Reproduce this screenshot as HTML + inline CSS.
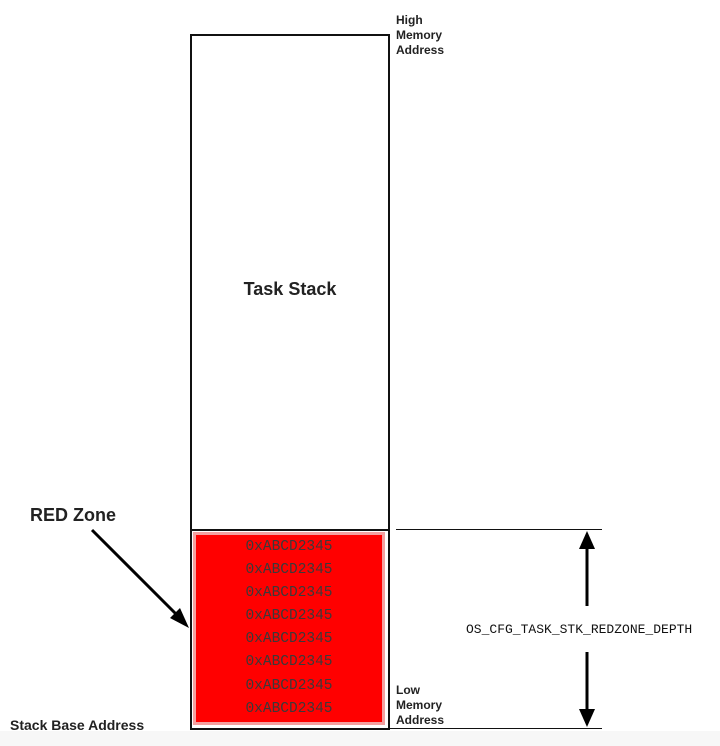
<!DOCTYPE html>
<html><head><style>
body{margin:0;width:720px;height:746px;background:#fff;position:relative;overflow:hidden;font-family:"Liberation Sans",sans-serif;}
.a{position:absolute;}
.lbl{font-size:12px;font-weight:bold;color:#222;line-height:15px;}
.hx{position:absolute;left:0;width:100%;text-align:center;font-family:"Liberation Mono",monospace;font-size:14.5px;color:#3a3a3a;}
</style></head><body>
<div class="a" style="left:0;top:731px;width:720px;height:15px;background:#f7f7f7"></div>
<div class="a" style="left:190px;top:34px;width:196px;height:692px;border:2px solid #111;background:#fff"></div>
<div class="a" style="left:190px;top:529px;width:198px;height:2px;background:#111"></div>
<div class="a" style="left:193px;top:532px;width:192px;height:193px;background:#ff0000;box-shadow:inset 0 0 0 3px #f4a0a0;">
<div class="hx" style="top:7px">0xABCD2345</div>
<div class="hx" style="top:30px">0xABCD2345</div>
<div class="hx" style="top:53px">0xABCD2345</div>
<div class="hx" style="top:76px">0xABCD2345</div>
<div class="hx" style="top:99px">0xABCD2345</div>
<div class="hx" style="top:122px">0xABCD2345</div>
<div class="hx" style="top:146px">0xABCD2345</div>
<div class="hx" style="top:169px">0xABCD2345</div>
</div>
<div class="a" style="left:190px;top:279px;width:200px;text-align:center;font-size:18px;font-weight:bold;color:#222">Task Stack</div>
<div class="a lbl" style="left:396px;top:13px">High<br>Memory<br>Address</div>
<div class="a lbl" style="left:396px;top:683px">Low<br>Memory<br>Address</div>
<div class="a" style="left:30px;top:505px;font-size:18px;font-weight:bold;color:#222">RED Zone</div>
<div class="a" style="left:10px;top:717px;font-size:14px;font-weight:bold;color:#222">Stack Base Address</div>
<div class="a" style="left:466px;top:622px;font-family:'Liberation Mono',monospace;font-size:13px;color:#111">OS_CFG_TASK_STK_REDZONE_DEPTH</div>
<svg class="a" style="left:0;top:0" width="720" height="746">
<line x1="396" y1="529.5" x2="602" y2="529.5" stroke="#111" stroke-width="1"/>
<line x1="388" y1="728.5" x2="602" y2="728.5" stroke="#111" stroke-width="1"/>
<line x1="587" y1="545" x2="587" y2="606" stroke="#000" stroke-width="3"/>
<line x1="587" y1="652" x2="587" y2="713" stroke="#000" stroke-width="3"/>
<polygon points="587,531 579,549 595,549" fill="#000"/>
<polygon points="587,727 579,709 595,709" fill="#000"/>
<line x1="92" y1="530" x2="178" y2="616" stroke="#000" stroke-width="3"/>
<polygon points="189,628 170,618 180,608" fill="#000"/>
</svg>
</body></html>
